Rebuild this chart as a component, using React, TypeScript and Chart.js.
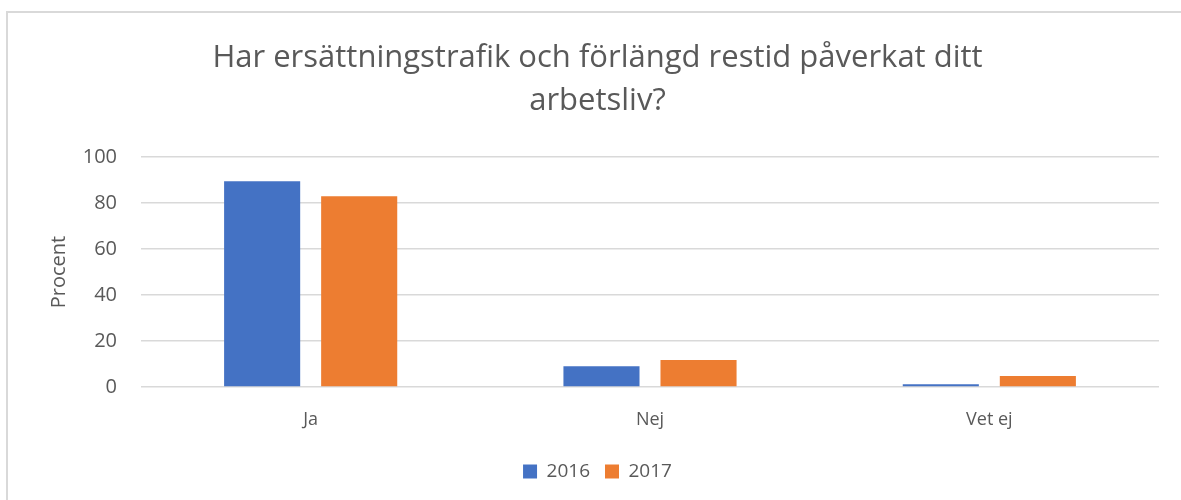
import React, { useEffect, useRef } from "react";
import { Chart, registerables } from "chart.js";

Chart.register(...registerables);

const titleLines = ["Har ersättningstrafik och förlängd restid påverkat ditt", "arbetsliv?"];
const categories = ["Ja", "Nej", "Vet ej"];
const series2016 = [89.5, 9.0, 1.2];
const series2017 = [83.0, 11.8, 4.8];
const seriesLabels = ["2016", "2017"];
const yTitle = "Procent";

const FONT = "'Open Sans', 'Liberation Sans', sans-serif";
const TEXT = "#595959";
const GRID = "#d9d9d9";

export default function App() {
  const ref = useRef<HTMLCanvasElement | null>(null);

  useEffect(() => {
    document.body.style.margin = "0";
    const canvas = ref.current;
    if (!canvas) return;
    const chart = new Chart(canvas, {
      type: "bar",
      data: {
        labels: categories,
        datasets: [
          {
            label: seriesLabels[0],
            data: series2016,
            backgroundColor: "#4472C4",
            categoryPercentage: 0.572,
            barPercentage: 0.784,
          },
          {
            label: seriesLabels[1],
            data: series2017,
            backgroundColor: "#ED7D31",
            categoryPercentage: 0.572,
            barPercentage: 0.784,
          },
        ],
      },
      options: {
        responsive: false,
        maintainAspectRatio: false,
        animation: false,
        layout: { padding: { left: 36, right: 22, top: 20, bottom: 9 } },
        plugins: {
          title: {
            display: true,
            text: titleLines,
            color: TEXT,
            font: { family: FONT, size: 31, weight: "normal", lineHeight: 1.39 },
            padding: { top: 17, bottom: 34 },
          },
          legend: {
            display: true,
            position: "bottom",
            labels: {
              boxWidth: 14,
              boxHeight: 14,
              padding: 15,
              color: TEXT,
              font: { family: FONT, size: 19 },
            },
          },
          tooltip: { enabled: false },
        },
        scales: {
          x: {
            grid: { display: false, drawTicks: false },
            border: { display: false },
            ticks: { color: TEXT, font: { family: FONT, size: 18 }, padding: 22 },
            afterFit: (scale: any) => {
              scale.height = 60;
            },
          },
          y: {
            min: 0,
            max: 100,
            ticks: { stepSize: 20, color: TEXT, font: { family: FONT, size: 20 }, padding: 24 },
            grid: { color: GRID, lineWidth: 1.5, drawTicks: false },
            border: { display: false },
            title: {
              display: true,
              text: yTitle,
              color: TEXT,
              font: { family: FONT, size: 20 },
              padding: { top: 11, bottom: 0 },
            },
            afterFit: (scale: any) => {
              scale.width = 105;
            },
          },
        },
      },
    });
    return () => chart.destroy();
  }, []);

  return (
    <div style={{ position: "relative", width: 1181, height: 500, overflow: "hidden", background: "#fff" }}>
      <div
        style={{
          position: "absolute",
          left: 6,
          top: 11,
          width: 1300,
          height: 600,
          border: "2px solid #d9d9d9",
        }}
      />
      <canvas ref={ref} width={1181} height={500} style={{ position: "absolute", left: 0, top: 0 }} />
    </div>
  );
}
